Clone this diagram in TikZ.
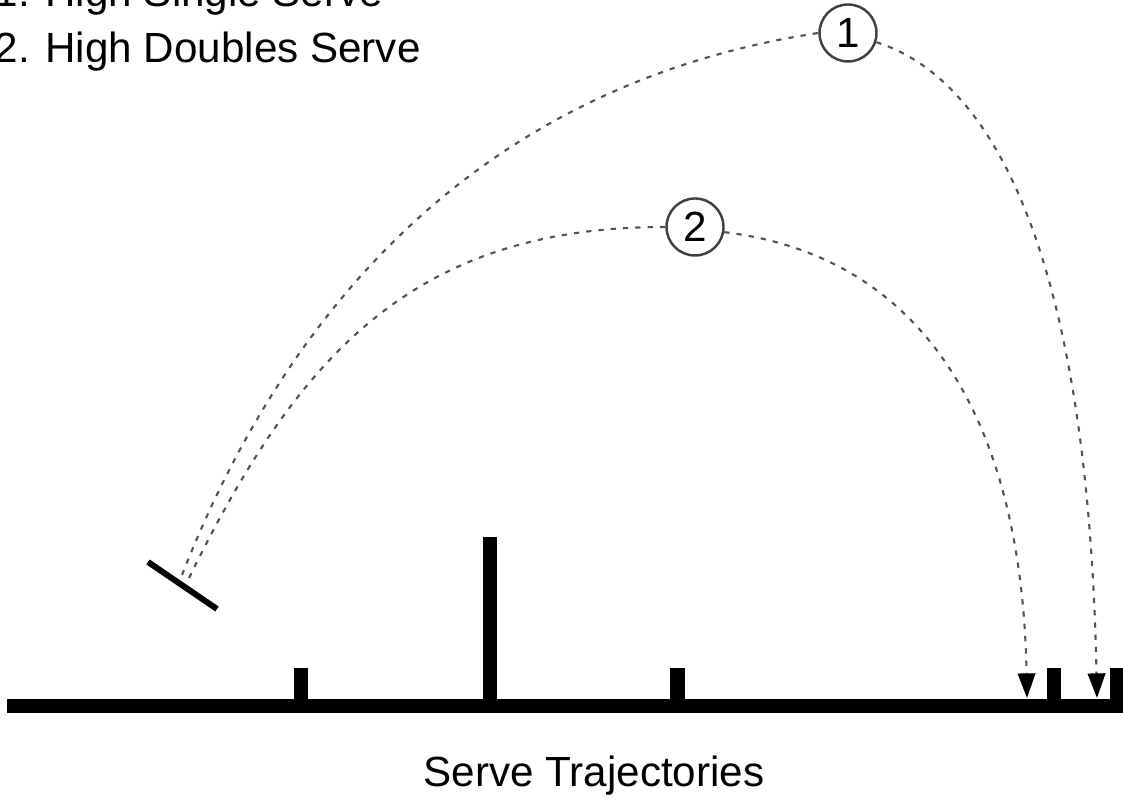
\documentclass[tikz,border=0pt]{standalone}
\usepackage{fontspec}
\setmainfont{Liberation Sans}
\usetikzlibrary{arrows.meta,positioning}

\begin{document}
\begin{tikzpicture}[scale=1,
    traj/.style={draw=black!68, line width=0.6pt, dash pattern=on 1.5pt off 2pt},
    tip/.style={-{Triangle[length=7pt,width=5pt,color=black]}},
    numcirc/.style={circle, draw=black!75, line width=0.7pt, minimum size=0.57cm, inner sep=0pt, font=\fontsize{12}{14}\selectfont},
    label/.style={anchor=base west, inner sep=0pt, font=\fontsize{12}{14}\selectfont}]
    \useasboundingbox (0,0) rectangle (11.23,8.01);
    % court with posts
    \fill (0.07,0.88) rectangle (11.23,1.02);
    \fill (2.94,1.0) rectangle (3.08,1.33);
    \fill (4.83,1.0) rectangle (4.97,2.64);
    \fill (6.70,1.0) rectangle (6.85,1.33);
    \fill (10.47,1.0) rectangle (10.61,1.33);
    \fill (11.10,1.0) rectangle (11.23,1.33);
    % racket
    \draw[line width=1.7pt] (1.48,2.39) -- (2.17,1.92);
    \coordinate (s1) at (1.82,2.26);
    \coordinate (s2) at (1.89,2.23);
    \coordinate (e1) at (10.97,1.03);
    \coordinate (e2) at (10.27,1.03);
    \node[numcirc] (c1) at (8.48,7.68) {1};
    \node[numcirc] (c2) at (6.95,5.74) {2};
    % trajectories
    \draw[traj] (s1) .. controls +(1.1,2.8) and +(-3.27,-0.5) .. (c1.west);
    \draw[traj,tip] (c1.-18) .. controls +(1.14,-0.36) and +(-0.09,4.5) .. (e1);
    \draw[traj] (s2) .. controls +(1.1,2.25) and +(-2.5,0) .. (c2.west);
    \draw[traj,tip] (c2.-10) .. controls +(1.98,-0.24) and +(-0.05,2.8) .. (e2);
    % texts
    \node[label] (leg1) at (-0.06,7.94) {1. High Single Serve};
    \node[label] (leg2) at (-0.06,7.38) {2. High Doubles Serve};
    \node[label, anchor=base] (title) at (5.94,0.14) {Serve Trajectories};
\end{tikzpicture}
\end{document}
